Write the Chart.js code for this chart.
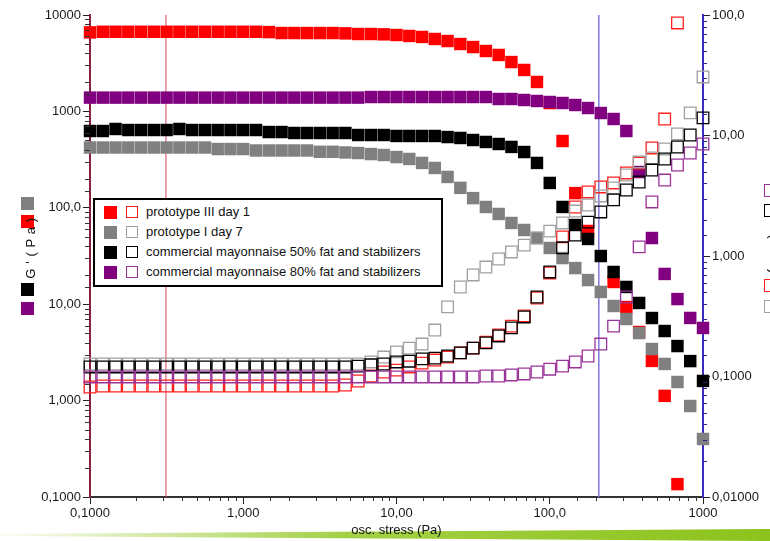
<!DOCTYPE html>
<html>
<head>
<meta charset="utf-8">
<script src="https://cdn.jsdelivr.net/npm/chart.js@4.4.1/dist/chart.umd.min.js"></script>
<style>
    html, body { margin: 0; padding: 0; background: #fff; }
    #marco { position: relative; width: 770px; height: 541px; overflow: hidden; font-family: "Liberation Sans", Arial, sans-serif; color: #111; }
    #franja {
        position: absolute; left: 0; top: 528px; width: 770px; height: 13px;
        background: linear-gradient(to right, rgba(160, 205, 60, 0.05), #a3d045 45%, #8cc31c);
        clip-path: polygon(0 6px, 100% 1px, 100% 13px, 0 8px);
    }
    #grafica { position: absolute; left: 0; top: 0; }
    #leyenda {
        position: absolute; left: 93px; top: 198px; width: 346px; height: 83px;
        border: 2px solid #000; background: #fff; font-size: 13px; padding-top: 2px; box-sizing: content-box;
    }
    .fila { height: 20px; line-height: 20px; white-space: nowrap; display: flex; align-items: center; }
    .lleno { display: inline-block; width: 13px; height: 13px; margin-left: 9px; }
    .vacio { display: inline-block; width: 12px; height: 12px; margin-left: 9px; margin-right: 8px; border: 1.5px solid; box-sizing: border-box; }
    .cuadro { position: absolute; width: 13px; height: 13px; box-sizing: border-box; }
    .girado { position: absolute; white-space: nowrap; font-size: 13px; line-height: 15px; }
</style>
</head>
<body>
<div id="marco">
    <div id="franja"></div>
    <canvas id="grafica" width="770" height="541"></canvas>
    <div id="leyenda"></div>

    <!-- titulo eje izquierdo -->
    <div class="cuadro" style="left:21px;top:197px;background:#808080"></div>
    <div class="cuadro" style="left:21px;top:215px;background:#ff0000"></div>
    <div class="girado" style="left:30px;top:248px;transform:translate(-50%,-50%) rotate(-90deg);letter-spacing:0.6px">G ' ( P a )</div>
    <div class="cuadro" style="left:21px;top:283px;background:#000"></div>
    <div class="cuadro" style="left:21px;top:302px;background:#800080"></div>

    <!-- titulo eje derecho (cortado) -->
    <div class="cuadro" style="left:764px;top:184px;border:1.5px solid #993399"></div>
    <div class="cuadro" style="left:764px;top:204px;border:1.5px solid #000"></div>
    <div class="girado" style="left:774px;top:244px;transform:translate(-50%,-50%) rotate(90deg);font-size:14px">tan(delta)</div>
    <div class="cuadro" style="left:764px;top:279px;border:1.5px solid #ff2020"></div>
    <div class="cuadro" style="left:764px;top:300px;border:1.5px solid #a0a0a0"></div>
</div>

<script>
/* -----------------------------
   DATOS
----------------------------- */
// esfuerzo oscilatorio (Pa)
const esfuerzo = [
    0.1, 0.1212, 0.1468, 0.1778, 0.2154, 0.2610, 0.3162, 0.3831, 0.4642, 0.5623, 0.6813, 0.8254,
    1.0, 1.212, 1.468, 1.778, 2.154, 2.610, 3.162, 3.831, 4.642, 5.623, 6.813, 8.254,
    10.0, 12.12, 14.68, 17.78, 21.54, 26.10, 31.62, 38.31, 46.42, 56.23, 68.13, 82.54,
    100, 121.2, 146.8, 177.8, 215.4, 261.0, 316.2, 383.1, 464.2, 562.3, 681.3, 825.4, 1000
];

const nombres = [
    "prototype III day 1",
    "prototype I day 7",
    "commercial mayonnaise 50% fat and stabilizers",
    "commercial mayonnaise 80% fat and stabilizers"
];
const coloresLlenos = ["#ff0000", "#808080", "#000000", "#800080"];
const coloresVacios = ["#ff2020", "#a0a0a0", "#000000", "#993399"];

// G' (Pa), eje izquierdo
const gPrimaProtoIII = [
    6600, 6700, 6700, 6700, 6700, 6700, 6700, 6700, 6700, 6700, 6700, 6700,
    6700, 6700, 6650, 6500, 6500, 6500, 6500, 6500, 6450, 6350, 6350, 6300,
    6200, 6060, 5920, 5640, 5370, 5000, 4650, 4230, 3850, 3250, 2690, 2020,
    1220, 493, 142, 57.5, null, 17.0, 9.35, 5.15, 2.58, 1.12, 0.136
];
const gPrimaProtoI = [
    422, 422, 422, 422, 422, 422, 422, 422, 422, 422, 407, 407,
    407, 393, 393, 393, 393, 393, 381, 381, 375, 370, 361, 353,
    336, 321, 292, 259, 209, 161, 126, 102, 86.3, 69.6, 58.9, 48.6,
    38.3, 30.1, 23.7, 17.8, 13.4, 9.58, 7.02, 5.02, 3.43, 2.40, 1.56, 0.879, 0.40
];
const gPrimaComercial50 = [
    626, 626, 657, 641, 641, 641, 641, 657, 641, 641, 641, 641,
    641, 641, 611, 611, 597, 597, 597, 597, 597, 569, 569, 569,
    556, 556, 556, 556, 542, 530, 505, 482, 459, 428, 379, 292,
    181, 102, 66.3, 47.5, 31.6, 21.6, 15.1, 10.3, 7.19, 5.27, 3.68, 2.57, 1.60
];
const gPrimaComercial80 = [
    1390, 1390, 1390, 1390, 1390, 1390, 1390, 1390, 1390, 1390, 1390, 1390,
    1390, 1390, 1390, 1390, 1390, 1390, 1390, 1390, 1390, 1390, 1410, 1410,
    1410, 1410, 1410, 1410, 1410, 1410, 1410, 1410, 1345, 1345, 1313, 1282,
    1252, 1222, 1165, 1084, 962, 834, 626, 235, 48.6, 20.6, 11.3, 7.2, 5.67
];

// tan(delta), eje derecho
const tanProtoIII = [
    0.0818, 0.0834, 0.0834, 0.0834, 0.0834, 0.0834, 0.0834, 0.0834, 0.0834, 0.0834, 0.0834, 0.0834,
    0.0834, 0.0834, 0.0834, 0.0834, 0.0834, 0.0834, 0.0834, 0.0834, 0.085, 0.0918, 0.101, 0.109,
    0.113, 0.120, 0.129, 0.137, 0.145, 0.157, 0.172, 0.193, 0.221, 0.262, 0.318, 0.448,
    0.723, 1.44, 2.55, 3.40, 3.74, 4.04, 4.89, 5.91, 7.88, 13.7, 85.9
];
const tanProtoI = [
    0.127, 0.127, 0.127, 0.127, 0.127, 0.127, 0.127, 0.127, 0.127, 0.127, 0.127, 0.127,
    0.127, 0.127, 0.127, 0.127, 0.127, 0.127, 0.127, 0.127, 0.127, 0.127, 0.132, 0.145,
    0.160, 0.172, 0.186, 0.243, 0.378, 0.553, 0.696, 0.810, 0.944, 1.08, 1.23, 1.41,
    1.61, 1.88, 2.36, 2.65, 3.15, 3.67, 4.70, 6.03, 6.51, 7.73, 10.3, 15.4, 30.6
];
const tanComercial50 = [
    0.120, 0.120, 0.120, 0.120, 0.120, 0.120, 0.120, 0.120, 0.120, 0.120, 0.120, 0.120,
    0.120, 0.120, 0.120, 0.120, 0.120, 0.120, 0.120, 0.120, 0.120, 0.122, 0.125, 0.127,
    0.132, 0.134, 0.140, 0.142, 0.148, 0.157, 0.172, 0.190, 0.217, 0.253, 0.312, 0.457,
    0.737, 1.17, 1.49, 1.91, 2.32, 2.92, 3.53, 4.11, 5.17, 6.38, 8.03, 10.1, 14.0
];
const tanComercial80 = [
    0.0991, 0.0991, 0.0991, 0.0991, 0.0991, 0.0991, 0.0991, 0.0991, 0.0991, 0.0991, 0.0991, 0.0991,
    0.0991, 0.0991, 0.0991, 0.0991, 0.0991, 0.0991, 0.0991, 0.0991, 0.0991, 0.0991, 0.0991, 0.0991,
    0.0991, 0.0991, 0.0991, 0.0991, 0.0991, 0.0991, 0.0991, 0.101, 0.101, 0.103, 0.105, 0.109,
    0.115, 0.122, 0.132, 0.148, 0.186, 0.262, 0.457, 1.19, 2.81, 4.27, 5.69, 7.16, 8.50
];

// lineas de cursor verticales
const cursorEsfuerzo = [0.313, 209];
const cursorColores = ["#d8405e", "#8078dc"];

// etiquetas de los ejes
const ticksX = [[0.1, "0,1000"], [1, "1,000"], [10, "10,00"], [100, "100,0"], [1000, "1000"]];
const ticksY = [[0.1, "0,1000"], [1, "1,000"], [10, "10,00"], [100, "100,0"], [1000, "1000"], [10000, "10000"]];
const ticksY2 = [[0.01, "0,01000"], [0.1, "0,1000"], [1, "1,000"], [10, "10,00"], [100, "100,0"]];

const gPrima = [gPrimaProtoIII, gPrimaProtoI, gPrimaComercial50, gPrimaComercial80];
const tanDelta = [tanProtoIII, tanProtoI, tanComercial50, tanComercial80];

/* -----------------------------
   UTILIDADES
----------------------------- */
const FUENTE = "'Liberation Sans', Arial, sans-serif";

function esMayor(v) {
    const l = Math.log10(v);
    return Math.abs(l - Math.round(l)) < 1e-6;
}

function etiqueta(valor, lista) {
    const par = lista.find(([v]) => Math.abs(Math.log10(v) - Math.log10(valor)) < 1e-6);
    return par ? par[1] : "";
}

function puntos(valores) {
    return valores
        .map((v, i) => (v === null ? null : { x: esfuerzo[i], y: v }))
        .filter(p => p !== null);
}

/* -----------------------------
   DATASETS
----------------------------- */
const datasets = [];

gPrima.forEach((serie, k) => {
    datasets.push({
        label: nombres[k] + " G'",
        data: puntos(serie),
        yAxisID: "y",
        pointStyle: "rect",
        pointRadius: 8.8,
        pointBackgroundColor: coloresLlenos[k],
        pointBorderWidth: 0,
        showLine: false,
        clip: false,
        order: 20 - k
    });
});

tanDelta.forEach((serie, k) => {
    datasets.push({
        label: nombres[k] + " tan(delta)",
        data: puntos(serie),
        yAxisID: "y2",
        pointStyle: "rect",
        pointRadius: 8.2,
        pointBackgroundColor: "rgba(0,0,0,0)",
        pointBorderColor: coloresVacios[k],
        pointBorderWidth: 1.3,
        showLine: false,
        clip: false,
        order: 10 - k
    });
});

cursorEsfuerzo.forEach((x, k) => {
    datasets.push({
        type: "line",
        label: "cursor " + k,
        data: [{ x: x, y: 0.1 }, { x: x, y: 10000 }],
        yAxisID: "y",
        borderColor: cursorColores[k],
        borderWidth: k === 0 ? 1 : 1.5,
        pointRadius: 0,
        order: 100
    });
});

/* -----------------------------
   TICKS MENORES
----------------------------- */
const ticksMenores = {
    id: "ticksMenores",
    afterDraw(chart) {
        const ctx = chart.ctx;
        const conf = { x: ["#333", 4], y: ["#333", 5], y2: ["#2a2a90", 4] };
        Object.keys(conf).forEach(id => {
            const scale = chart.scales[id];
            ctx.save();
            ctx.strokeStyle = conf[id][0];
            ctx.lineWidth = 1;
            scale.ticks.forEach(t => {
                if (esMayor(t.value)) return;
                const p = Math.round(scale.getPixelForValue(t.value)) + 0.5;
                ctx.beginPath();
                if (id === "x") {
                    ctx.moveTo(p, scale.top);
                    ctx.lineTo(p, scale.top + conf[id][1]);
                } else if (id === "y") {
                    ctx.moveTo(scale.right, p);
                    ctx.lineTo(scale.right - conf[id][1], p);
                } else {
                    ctx.moveTo(scale.left, p);
                    ctx.lineTo(scale.left + conf[id][1], p);
                }
                ctx.stroke();
            });
            ctx.restore();
        });
    }
};

function ejeLog(lista, opciones) {
    return Object.assign({
        type: "logarithmic",
        grid: {
            drawOnChartArea: false,
            drawTicks: true,
            tickLength: 7,
            tickWidth: 1,
            tickColor: (c) => (c.tick && esMayor(c.tick.value) ? "#222" : "rgba(0,0,0,0)")
        },
        ticks: {
            autoSkip: false,
            maxRotation: 0,
            padding: 2,
            color: "#1a1a1a",
            font: { family: FUENTE, size: 13 },
            callback: (v) => etiqueta(v, lista)
        }
    }, opciones);
}

/* -----------------------------
   GRAFICA
----------------------------- */
new Chart(document.getElementById("grafica"), {
    type: "scatter",
    data: { datasets },
    options: {
        responsive: false,
        animation: false,
        events: [],
        layout: { padding: { top: 15, left: 0, right: 0, bottom: 0 } },
        plugins: {
            legend: { display: false },
            tooltip: { enabled: false }
        },
        scales: {
            x: ejeLog(ticksX, {
                position: "bottom",
                min: 0.1,
                max: 1000,
                border: { color: "#333", width: 2 },
                title: {
                    display: true,
                    text: "osc. stress (Pa)",
                    color: "#111",
                    font: { family: FUENTE, size: 13 },
                    padding: { top: 0, bottom: 3 }
                },
                afterFit: (scale) => { scale.height = 44; }
            }),
            y: ejeLog(ticksY, {
                position: "left",
                min: 0.1,
                max: 10000,
                border: { color: "#8a1f3c", width: 2 },
                afterFit: (scale) => { scale.width = 90; }
            }),
            y2: ejeLog(ticksY2, {
                position: "right",
                min: 0.01,
                max: 100,
                border: { color: "#3b2bbf", width: 2 },
                afterFit: (scale) => { scale.width = 67; }
            })
        }
    },
    plugins: [ticksMenores]
});

/* -----------------------------
   LEYENDA
----------------------------- */
const leyendaEl = document.getElementById("leyenda");
nombres.forEach((nombre, k) => {
    const fila = document.createElement("div");
    fila.className = "fila";
    const lleno = document.createElement("span");
    lleno.className = "lleno";
    lleno.style.background = coloresLlenos[k];
    const vacio = document.createElement("span");
    vacio.className = "vacio";
    vacio.style.borderColor = coloresVacios[k];
    fila.appendChild(lleno);
    fila.appendChild(vacio);
    fila.appendChild(document.createTextNode(nombre));
    leyendaEl.appendChild(fila);
});
</script>
</body>
</html>
